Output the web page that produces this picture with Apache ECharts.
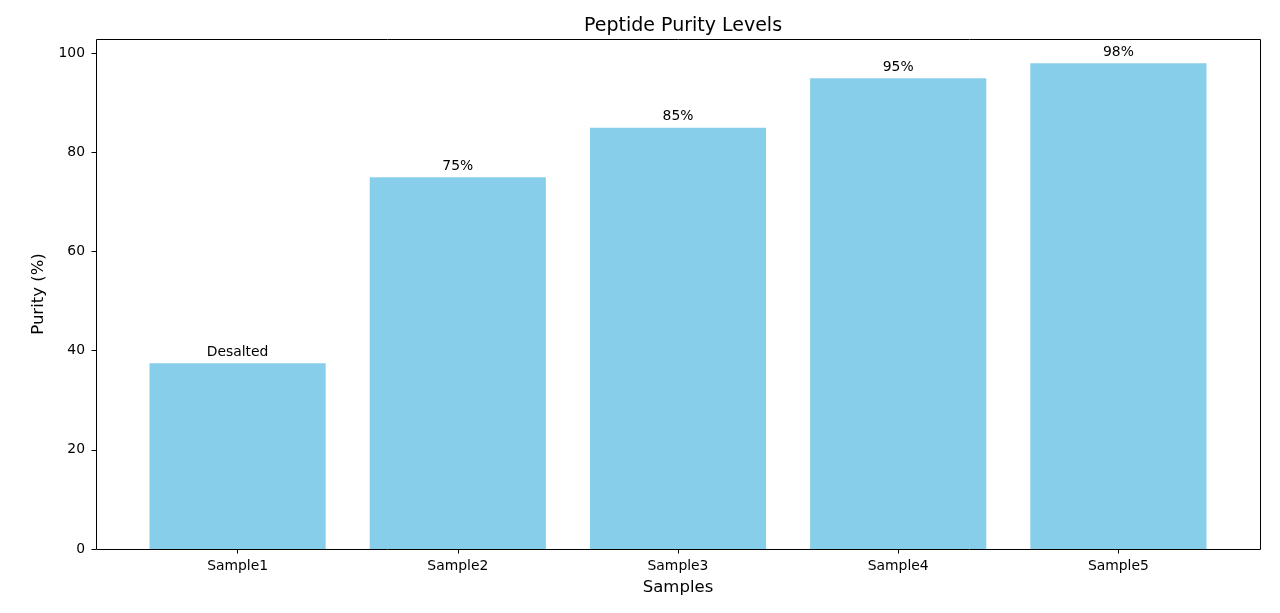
<!DOCTYPE html>
<html>
<head>
<meta charset="utf-8">
<script src="https://cdn.jsdelivr.net/npm/echarts@6/dist/echarts.min.js"></script>
<style>
  html, body { margin: 0; padding: 0; background: #fff; }
  #chart { width: 1280px; height: 613px; }
</style>
</head>
<body>
<div id="chart"></div>
<script>
// chart data
const samples = ['Sample1', 'Sample2', 'Sample3', 'Sample4', 'Sample5']
const purity = [37.5, 75, 85, 95, 98]
const barLabels = ['Desalted', '75%', '85%', '95%', '98%']
const yTicks = [0, 20, 40, 60, 80, 100]

const font = 'DejaVu Sans'
const chart = echarts.init(document.getElementById('chart'), null, { renderer: 'canvas' })

// plot frame (matplotlib style box), category axis sits inside with margins
const frame = { left: 96, top: 39, right: 1260, bottom: 549 }
const pad = 31.5 // x margin on each side of the categories

const option = {
  animation: false,
  backgroundColor: '#fff',
  title: {
    text: 'Peptide Purity Levels',
    left: (frame.left + frame.right) / 2,
    textAlign: 'center',
    top: 12,
    textStyle: { fontFamily: font, fontSize: 19, fontWeight: 'normal', color: '#000' }
  },
  grid: {
    left: frame.left + pad,
    right: 1280 - frame.right + pad,
    top: frame.top,
    bottom: 613 - frame.bottom
  },
  xAxis: {
    type: 'category',
    data: samples,
    name: 'Samples',
    nameLocation: 'middle',
    nameGap: 30,
    nameTextStyle: { fontFamily: font, fontSize: 16.5, color: '#000' },
    axisLine: { show: false },
    axisTick: { show: true, alignWithLabel: true, length: 4.5, lineStyle: { color: '#000' } },
    axisLabel: { fontFamily: font, fontSize: 13.9, color: '#000', margin: 10 },
    splitLine: { show: false }
  },
  yAxis: {
    type: 'value',
    min: 0,
    max: 102.9,
    offset: pad,
    name: 'Purity (%)',
    nameLocation: 'middle',
    nameGap: 46,
    nameTextStyle: { fontFamily: font, fontSize: 16.5, color: '#000' },
    axisLine: { show: false },
    axisTick: { show: true, length: 4.5, customValues: yTicks, lineStyle: { color: '#000' } },
    axisLabel: { fontFamily: font, fontSize: 13.9, color: '#000', margin: 11, customValues: yTicks },
    splitLine: { show: false }
  },
  graphic: [
    {
      type: 'rect',
      shape: {
        x: frame.left + 0.5,
        y: frame.top + 0.5,
        width: frame.right - frame.left,
        height: frame.bottom - frame.top
      },
      style: { fill: null, stroke: '#000', lineWidth: 1 },
      z: 100
    }
  ],
  series: [
    {
      type: 'bar',
      data: purity,
      barWidth: '80%',
      itemStyle: { color: '#87CEEB' },
      label: {
        show: true,
        position: 'top',
        distance: 4,
        formatter: p => barLabels[p.dataIndex],
        fontFamily: font,
        fontSize: 13.9,
        color: '#000'
      }
    }
  ]
}

chart.setOption(option)
</script>
</body>
</html>
